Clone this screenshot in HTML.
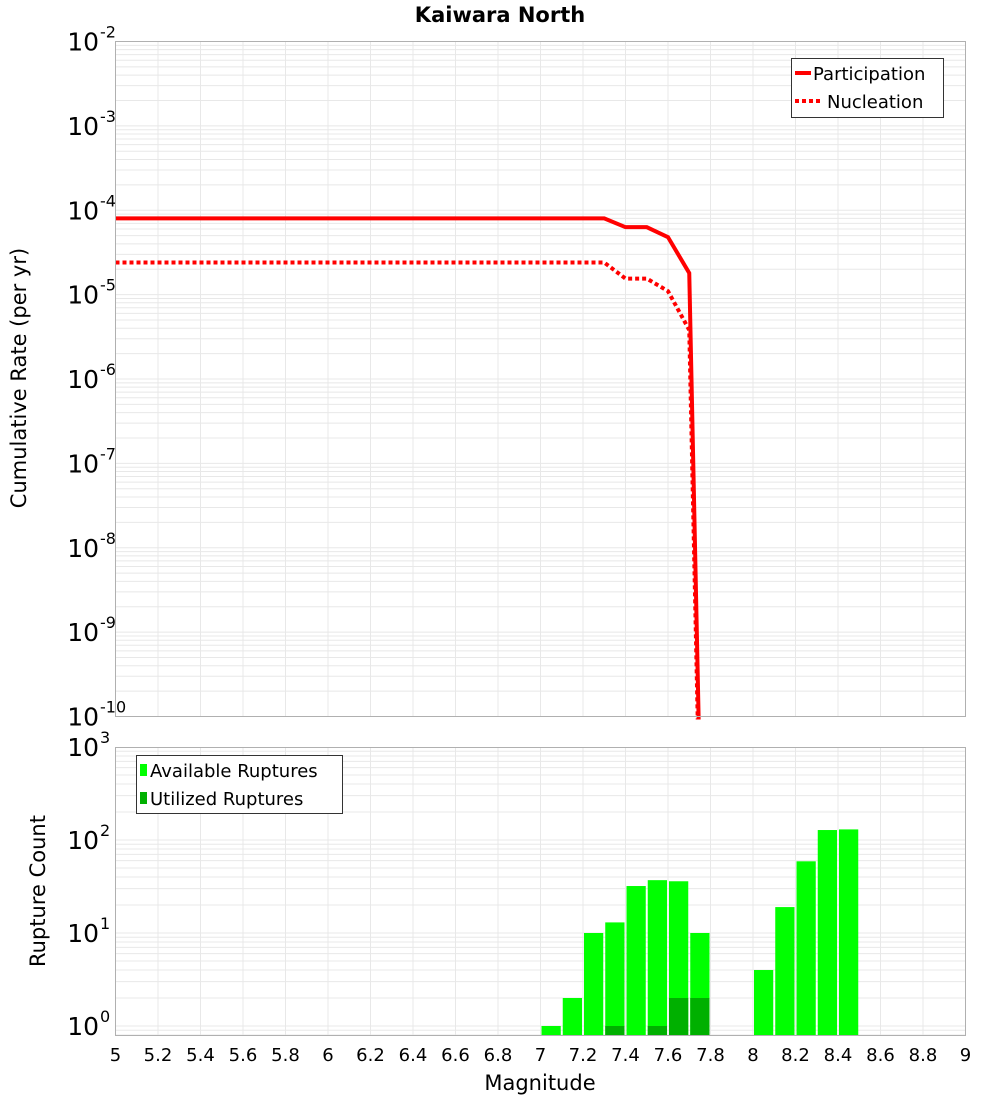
<!DOCTYPE html>
<html><head><meta charset="utf-8"><style>
html,body{margin:0;padding:0;background:#fff;width:1000px;height:1100px;overflow:hidden;}
#wrap{position:relative;width:1000px;height:1100px;overflow:hidden;}
svg{display:block;font-family:"DejaVu Sans","Liberation Sans",sans-serif;}
</style></head><body>
<div id="wrap">
<svg id="chart" width="1000" height="1100" viewBox="0 0 1000 1100" xmlns="http://www.w3.org/2000/svg" style="position:absolute;left:0;top:0"></svg>
<svg style="position:absolute;left:0;top:0" width="1000" height="1100" xmlns="http://www.w3.org/2000/svg" font-family="DejaVu Sans, Liberation Sans, sans-serif">
<text x="500" y="22" text-anchor="middle" font-size="21" font-weight="bold">Kaiwara North</text>
<text x="540" y="1090" text-anchor="middle" font-size="21">Magnitude</text>
<text transform="translate(26,378) rotate(-90)" text-anchor="middle" font-size="21">Cumulative Rate (per yr)</text>
<text transform="translate(45,891) rotate(-90)" text-anchor="middle" font-size="21">Rupture Count</text>
<g font-size="18">
<rect x="791.5" y="58.5" width="152" height="59" fill="#fff" stroke="#333"/>
<line x1="795" x2="811" y1="73" y2="73" stroke="#f00" stroke-width="4"/>
<text x="813" y="80">Participation</text>
<line x1="795" x2="821" y1="101" y2="101" stroke="#f00" stroke-width="4" stroke-dasharray="4,3"/>
<text x="827" y="108">Nucleation</text>
</g>
<g font-size="18">
<rect x="136.5" y="755.5" width="206" height="58" fill="#fff" stroke="#333"/>
<rect x="140" y="764" width="7" height="12" fill="#00ff00"/>
<text x="150" y="777">Available Ruptures</text>
<rect x="140" y="792" width="7" height="12" fill="#00b000"/>
<text x="150" y="805">Utilized Ruptures</text>
</g>
</svg>
</div>
<script>
const xTicks=[5,5.2,5.4,5.6,5.8,6,6.2,6.4,6.6,6.8,7,7.2,7.4,7.6,7.8,8,8.2,8.4,8.6,8.8,9];
const xTickLabels=["5","5.2","5.4","5.6","5.8","6","6.2","6.4","6.6","6.8","7","7.2","7.4","7.6","7.8","8","8.2","8.4","8.6","8.8","9"];
const topExps=[-2,-3,-4,-5,-6,-7,-8,-9,-10];
const botExps=[0,1,2,3];
const lineMags=[5,5.1,5.2,5.3,5.4,5.5,5.6,5.7,5.8,5.9,6,6.1,6.2,6.3,6.4,6.5,6.6,6.7,6.8,6.9,7,7.1,7.2,7.3,7.4,7.5,7.6,7.7,7.8];
const participation=[8e-5,8e-5,8e-5,8e-5,8e-5,8e-5,8e-5,8e-5,8e-5,8e-5,8e-5,8e-5,8e-5,8e-5,8e-5,8e-5,8e-5,8e-5,8e-5,8e-5,8e-5,8e-5,8e-5,8e-5,6.3e-5,6.3e-5,4.8e-5,1.8e-5,2e-17];
const nucleation=[2.4e-5,2.4e-5,2.4e-5,2.4e-5,2.4e-5,2.4e-5,2.4e-5,2.4e-5,2.4e-5,2.4e-5,2.4e-5,2.4e-5,2.4e-5,2.4e-5,2.4e-5,2.4e-5,2.4e-5,2.4e-5,2.4e-5,2.4e-5,2.4e-5,2.4e-5,2.4e-5,2.4e-5,1.55e-5,1.55e-5,1.1e-5,3.8e-6,1e-17];
const barMags=[7.0,7.1,7.2,7.3,7.4,7.5,7.6,7.7,8.0,8.1,8.2,8.3,8.4];
const available=[1,2,10,13,32,37,36,10,4,19,59,128,130];
const utilized=[0,0,0,1,0,1,2,2,0,0,0,0,0];

const NS="http://www.w3.org/2000/svg";
const svg=document.getElementById('chart');
function el(tag,attrs,parent){const e=document.createElementNS(NS,tag);for(const k in attrs)e.setAttribute(k,attrs[k]);(parent||svg).appendChild(e);return e;}
const L=115.5,R=965.5;
const T1=41.5,B1=716.5,T2=747.5,B2=1035.5;
const x=m=>L+(m-5)/4*(R-L);
const yTop=v=>T1+(-2-Math.log10(v))/8*(B1-T1);
const yBot0=1026,dec=93;
const yBot=v=>yBot0-Math.log10(v)*dec;

function grid(T,B,yf,minExp,maxExp,name){
  const g=el('g',{});
  
  
  for(let e=minExp;e<maxExp;e++){for(let k=1;k<10;k++){const v=k*Math.pow(10,e);const yy=yf(v);if(yy<T||yy>B)continue;
    el('line',{x1:L,x2:R,y1:yy,y2:yy,stroke:'#e8e8e8','stroke-width':1},g);}}
  xTicks.forEach(t=>el('line',{x1:x(t),x2:x(t),y1:T,y2:B,stroke:'#e8e8e8','stroke-width':1},g));
}
grid(T1,B1,yTop,-10,-1,'top-grid');
grid(T2,B2,yBot,-1,3,'bottom-grid');

const defs=el('defs',{});
const cp=el('clipPath',{id:'c1'},defs);el('rect',{x:L,y:T1,width:R-L,height:B1-T1+3},cp);

function pts(vals){return lineMags.map((m,i)=>x(m)+','+yTop(vals[i])).join(' ');}
const pl=el('polyline',{points:pts(participation),fill:'none',stroke:'#ff0000','stroke-width':4,'clip-path':'url(#c1)'});


const nl=el('polyline',{points:pts(nucleation),fill:'none',stroke:'#ff0000','stroke-width':4,'stroke-dasharray':'4,3','clip-path':'url(#c1)'});



const bw=x(5.1)-x(5);
barMags.forEach((m,i)=>{
  const yy=yBot(available[i]);
  const r=el('rect',{x:x(m)+1,y:yy,width:bw-2,height:B2-yy,fill:'#00ff00'});
  
  
  if(utilized[i]>0){const yu=yBot(utilized[i]);
    const u=el('rect',{x:x(m)+1,y:yu,width:bw-2,height:B2-yu,fill:'#00b000'});
    
    }
});

el('rect',{x:L,y:T1,width:R-L,height:B1-T1,fill:'none',stroke:'#b0b0b0'});
el('rect',{x:L,y:T2,width:R-L,height:B2-T2,fill:'none',stroke:'#b0b0b0'});

function ylab(yy,e,name){
  const t=el('text',{x:99,y:yy+9,'text-anchor':'end','font-size':25,fill:'#000'});
  
  
  t.textContent='10';
  const s=el('text',{x:100,y:yy-4,'font-size':16,fill:'#000'});
  s.textContent=String(e);
}
topExps.forEach(e=>ylab(yTop(Math.pow(10,e)),e,'y-tick-label'));
botExps.forEach(e=>ylab(yBot(Math.pow(10,e)),e,'y-tick-label'));

xTicks.forEach((t,i)=>{const tx=el('text',{x:x(t),y:1061,'text-anchor':'middle','font-size':18,fill:'#000'});
  
  
  tx.textContent=xTickLabels[i];});
</script>
</body></html>
